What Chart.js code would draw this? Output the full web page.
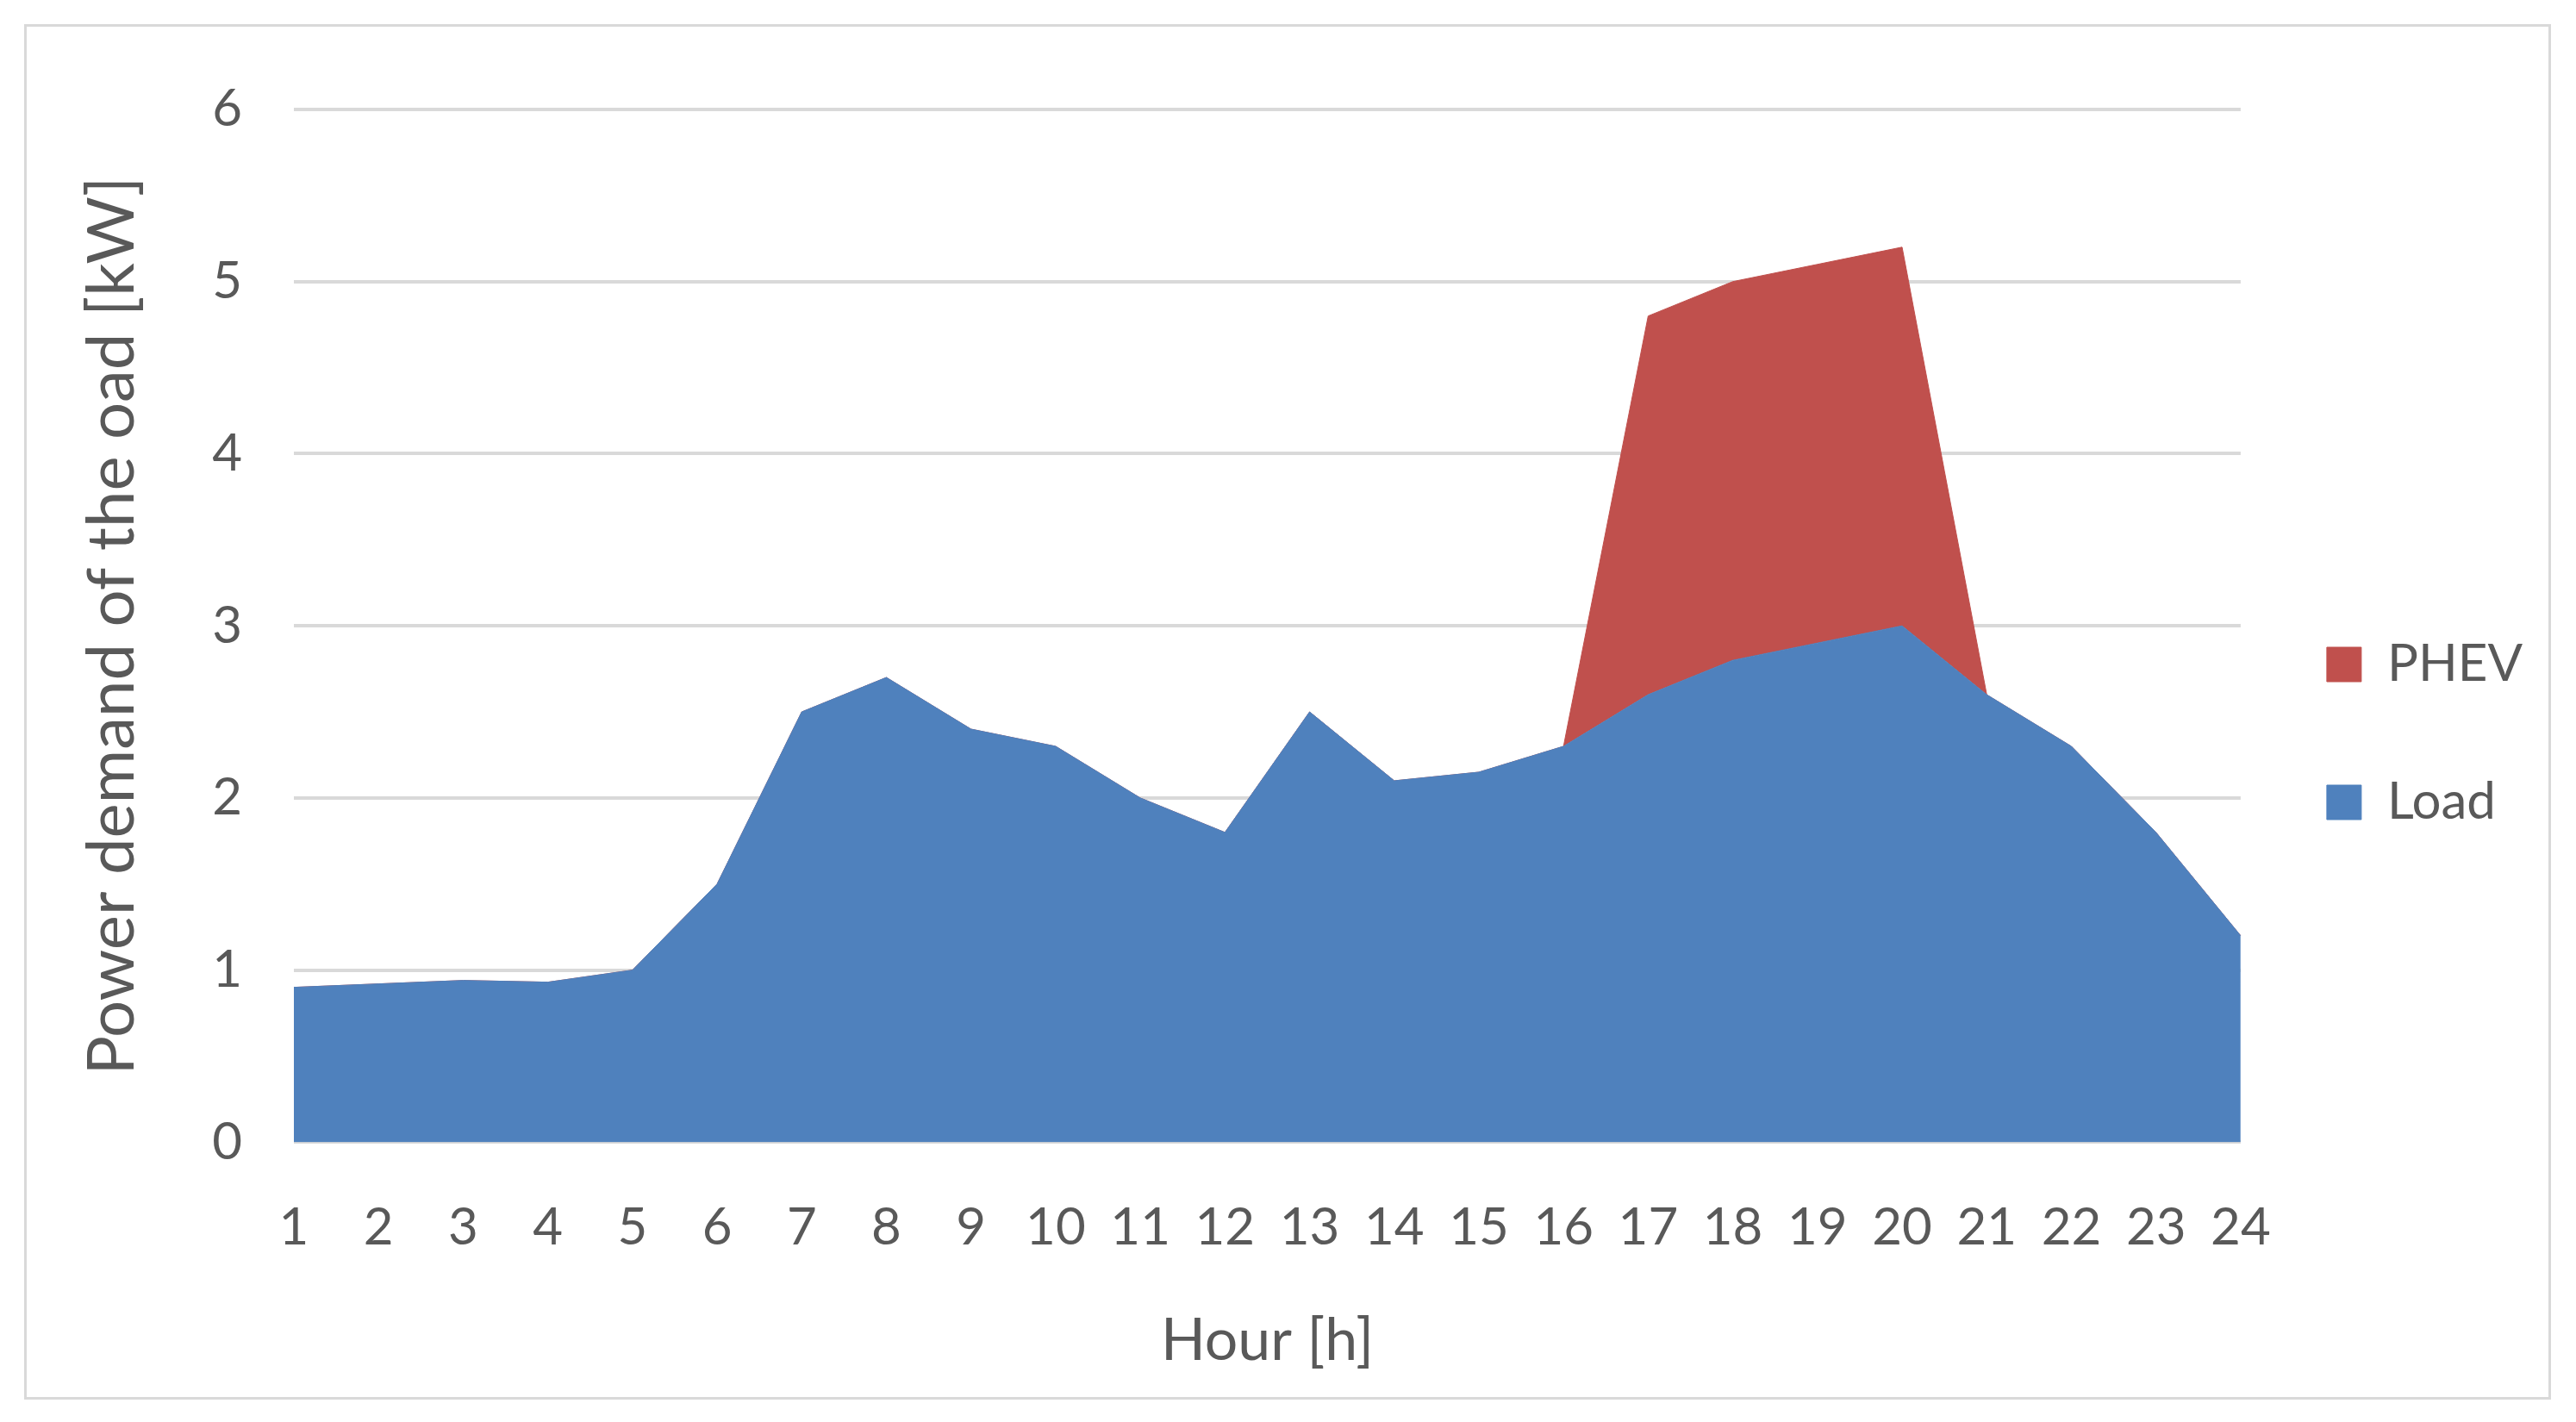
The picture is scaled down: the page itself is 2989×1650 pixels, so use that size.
<!DOCTYPE html>
<html><head><meta charset="utf-8">
<script src="https://cdn.jsdelivr.net/npm/chart.js@4"></script>
<style>
body{margin:0;background:#fff;width:2989px;height:1650px;overflow:hidden}
#box{position:absolute;left:28px;top:28px;width:2926px;height:1590px;border:3px solid #d9d9d9;background:#fff}
</style></head><body>
<div id="box"><canvas id="c" width="2926" height="1590"></canvas></div>
<script>
const hours=['1','2','3','4','5','6','7','8','9','10','11','12','13','14','15','16','17','18','19','20','21','22','23','24'];
const load=[0.9,0.92,0.94,0.93,1.0,1.5,2.5,2.7,2.4,2.3,2.0,1.8,2.5,2.1,2.15,2.3,2.6,2.8,2.9,3.0,2.6,2.3,1.8,1.2];
const phev=[0,0,0,0,0,0,0,0,0,0,0,0,0,0,0,0,2.2,2.2,2.2,2.2,0,0,0,0];
const yTicks=[0,1,2,3,4,5,6];
const font='Lato, "Open Sans", sans-serif';
new Chart(document.getElementById('c'),{
type:'line',
data:{labels:hours,datasets:[
{label:'Load',data:load,backgroundColor:'#4F81BD',borderColor:'#4F81BD',borderWidth:1,fill:'origin',pointRadius:0,tension:0},
{label:'PHEV',data:phev,backgroundColor:'#C0504D',borderColor:'#C0504D',borderWidth:1,fill:'-1',pointRadius:0,tension:0}
]},
options:{responsive:false,animation:false,
layout:{padding:{left:50,right:20,top:70,bottom:20}},
plugins:{tooltip:{enabled:false},
legend:{position:'right',reverse:true,labels:{font:{family:font,size:60},color:'#595959',boxWidth:40,boxHeight:40,padding:100}}},
scales:{
x:{offset:false,grid:{display:false},border:{display:false},
ticks:{font:{family:font,size:60},color:'#595959',maxRotation:0,autoSkip:false,padding:55},
title:{display:true,text:'Hour [h]',font:{family:font,size:68},color:'#595959',padding:{top:0}}},
y:{stacked:true,min:0,max:6,afterBuildTicks:a=>{a.ticks=yTicks.map(v=>({value:v}));},
grid:{color:'#d9d9d9',lineWidth:4,drawTicks:false},border:{display:false},
ticks:{font:{family:font,size:60},color:'#595959',padding:60},
title:{display:true,text:'Power demand of the oad [kW]',font:{family:font,size:76},color:'#595959',padding:{bottom:10}}}
}}});
</script></body></html>
